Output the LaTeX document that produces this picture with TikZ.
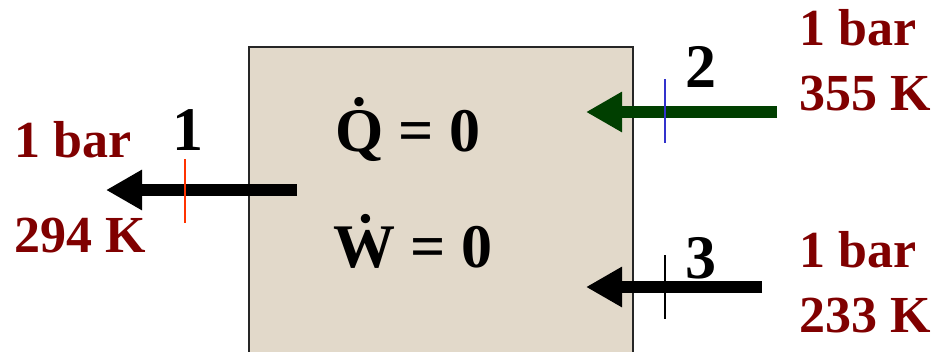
\documentclass[tikz,border=0pt]{standalone}
\usepackage{fontspec}
\setmainfont{Liberation Serif}
\usetikzlibrary{arrows.meta}
\definecolor{darkred}{HTML}{800000}
\definecolor{darkgreen}{HTML}{003F00}
\definecolor{boxfill}{HTML}{E2D9CA}
\definecolor{tickblue}{HTML}{3333CC}
\definecolor{tickred}{HTML}{FF3300}
\tikzset{
  cvbox/.style={draw=black!85, line width=1.5pt, fill=boxfill},
  flow/.style={line width=12pt, -{Triangle[length=36pt,width=38pt]}},
  tick/.style={line width=2pt},
  state/.style={font=\fontsize{52}{56}\selectfont\bfseries, text=darkred, inner sep=0pt, anchor=base west},
  lbl/.style={font=\fontsize{62}{66}\selectfont\bfseries, inner sep=0pt, anchor=base},
  eq/.style={font=\fontsize{62}{66}\selectfont\bfseries, inner sep=0pt, anchor=base west},
}
\begin{document}
\begin{tikzpicture}[x=1pt,y=-1pt]
\useasboundingbox (0,0) rectangle (937,351);
\path[cvbox] (249,47) rectangle (633,360);
% equations
\node[eq] (qeq) at (335,151) {\.{Q}\hspace{0.25em}=\hspace{0.25em}0};
\node[eq] (weq) at (333,267) {\.{W}\hspace{0.25em}=\hspace{0.25em}0};
% stream 1 (outlet)
\coordinate (s1a) at (297,190);
\coordinate (s1b) at (106,190);
\draw[flow, black] (s1a) -- (s1b);
\coordinate (t1a) at (185,159);
\coordinate (t1b) at (185,223);
\draw[tick, tickred] (t1a) -- (t1b);
\node[lbl] (l1) at (188,150) {1};
\node[state] (p1) at (14,157) {1 bar};
\node[state] (T1) at (14,252) {294 K};
% stream 2 (inlet)
\coordinate (s2a) at (777,112);
\coordinate (s2b) at (586,112);
\draw[flow, darkgreen] (s2a) -- (s2b);
\coordinate (t2a) at (665,79);
\coordinate (t2b) at (665,143);
\draw[tick, tickblue] (t2a) -- (t2b);
\node[lbl] (l2) at (701,87) {2};
\node[state] (p2) at (799,45) {1 bar};
\node[state] (T2) at (799,110) {355 K};
% stream 3 (inlet)
\coordinate (s3a) at (762,287);
\coordinate (s3b) at (586,287);
\draw[flow, black] (s3a) -- (s3b);
\coordinate (t3a) at (665,255);
\coordinate (t3b) at (665,319);
\draw[tick, black] (t3a) -- (t3b);
\node[lbl] (l3) at (701,278) {3};
\node[state] (p3) at (799,267) {1 bar};
\node[state] (T3) at (799,332) {233 K};
\end{tikzpicture}
\end{document}
